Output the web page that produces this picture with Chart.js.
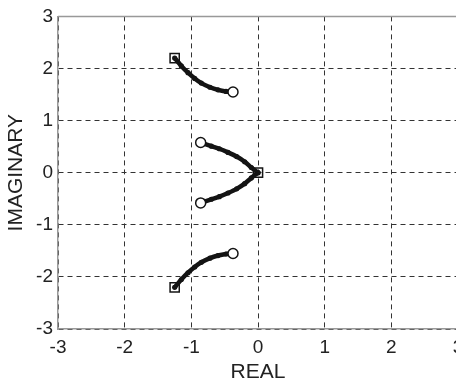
<!DOCTYPE html>
<html>
<head>
<style>
  html, body { margin: 0; padding: 0; background: #fff; overflow: hidden; }
  #wrap { width: 472px; height: 381px; }
</style>
</head>
<body>
<div id="wrap">
  <canvas id="myChart" width="472" height="381"></canvas>
</div>

<script src="https://cdn.jsdelivr.net/npm/chart.js"></script>

<script>
  // root locus branches (real, imaginary)
  let upperRe = [-1.25, -1.15, -1.05, -0.95, -0.85, -0.72, -0.6, -0.48, -0.375];
  let upperIm = [2.2, 2.05, 1.92, 1.81, 1.72, 1.64, 1.59, 1.56, 1.55];

  let midRe = [0, -0.1, -0.2, -0.32, -0.45, -0.58, -0.7, -0.86];
  let midIm = [0, 0.1, 0.21, 0.31, 0.39, 0.46, 0.51, 0.58];

  let lowerRe = upperRe.slice();
  let lowerIm = upperIm.map(v => -v);
  let midLowRe = midRe.slice();
  let midLowIm = midIm.map(v => -v);

  // start (square) and end (circle) markers
  let poleRe = [-1.25, 0, -1.25];
  let poleIm = [2.2, 0, -2.2];
  let zeroRe = [-0.375, -0.86, -0.86, -0.375];
  let zeroIm = [1.55, 0.58, -0.58, -1.55];

  let axisTicks = [-3, -2, -1, 0, 1, 2, 3];

  function pts(xs, ys) {
    let out = [];
    for (let i = 0; i < xs.length; i++) out.push({ x: xs[i], y: ys[i] });
    return out;
  }

  function branch(xs, ys) {
    return {
      data: pts(xs, ys),
      showLine: true,
      borderColor: '#141414',
      backgroundColor: '#141414',
      borderWidth: 4.5,
      pointRadius: 2.6,
      pointBorderWidth: 0,
      tension: 0.3
    };
  }

  // markers first so they are drawn on top
  let datasets = [
    {
      data: pts(zeroRe, zeroIm),
      showLine: false,
      pointStyle: 'circle',
      pointRadius: 5,
      borderWidth: 1.5,
      borderColor: '#141414',
      backgroundColor: '#fff'
    },
    {
      data: pts(poleRe, poleIm),
      showLine: false,
      pointStyle: 'rect',
      pointRadius: 6.5,
      borderWidth: 1.5,
      borderColor: '#141414',
      backgroundColor: 'rgba(255,255,255,0)'
    },
    branch(upperRe, upperIm),
    branch(midRe, midIm),
    branch(midLowRe, midLowIm),
    branch(lowerRe, lowerIm)
  ];
</script>

<script>
  const ctx = document.getElementById('myChart');
  const tickFont = { family: 'Liberation Sans, Arial, sans-serif', size: 19 };
  const titleFont = { family: 'Liberation Sans, Arial, sans-serif', size: 21 };

  new Chart(ctx, {
    type: 'scatter',
    data: { datasets: datasets },
    options: {
      responsive: false,
      animation: false,
      layout: { padding: { top: 16, right: 14, left: 0, bottom: 0 } },
      plugins: { legend: { display: false }, tooltip: { enabled: false } },
      scales: {
        x: {
          min: -3, max: 3,
          afterBuildTicks: a => { a.ticks = axisTicks.map(v => ({ value: v })); },
          afterFit: a => { a.height = 52; },
          grid: { color: '#333', lineWidth: 1, drawTicks: false },
          border: { display: true, color: '#999', width: 1.5, dash: [5, 4] },
          ticks: { color: '#222', font: tickFont, padding: 7, maxRotation: 0 },
          title: { display: true, text: 'REAL', color: '#222', font: titleFont, padding: { top: 0, bottom: -4 } }
        },
        y: {
          min: -3, max: 3,
          afterBuildTicks: a => { a.ticks = axisTicks.map(v => ({ value: v })); },
          afterFit: a => { a.width = 58; },
          grid: { color: '#333', lineWidth: 1, drawTicks: false },
          border: { display: true, color: '#999', width: 1.5, dash: [5, 4] },
          ticks: { color: '#222', font: tickFont, padding: 5 },
          title: { display: true, text: 'IMAGINARY', color: '#222', font: titleFont, padding: { top: 4, bottom: 0 } }
        }
      }
    },
    plugins: [{
      id: 'topEdge',
      beforeDatasetsDraw: c => {
        const a = c.chartArea;
        const g = c.ctx;
        g.save();
        g.strokeStyle = '#999';
        g.lineWidth = 1.5;
        g.beginPath();
        g.moveTo(a.left, a.top);
        g.lineTo(a.right, a.top);
        g.stroke();
        g.restore();
      }
    }]
  });
</script>
</body>
</html>
